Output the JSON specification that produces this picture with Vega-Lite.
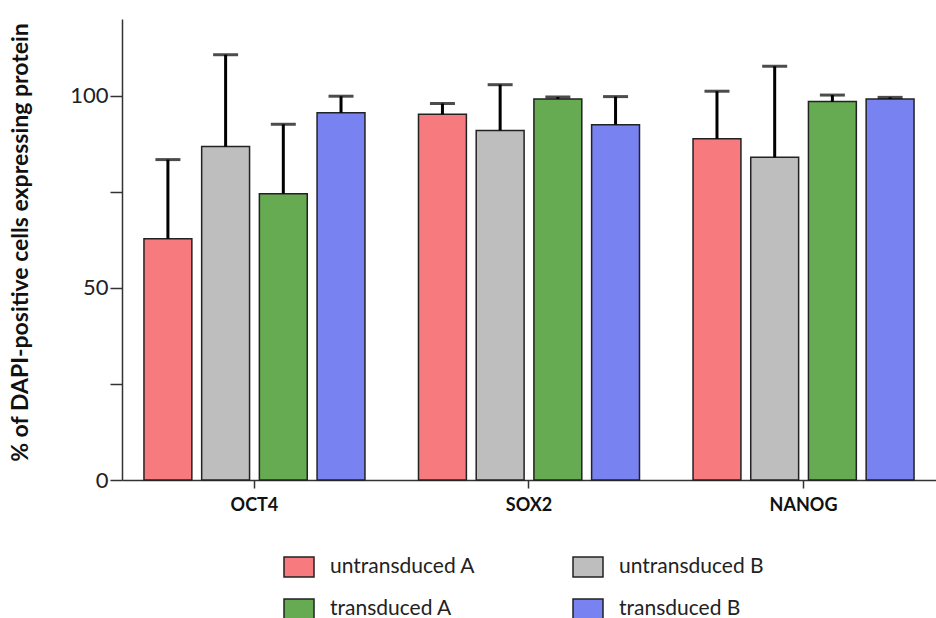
{
  "$schema": "https://vega.github.io/schema/vega-lite/v6.json",
  "autosize": "none",
  "width": 814,
  "height": 461,
  "padding": {"left": 122, "top": 19, "right": 0, "bottom": 138},
  "background": "white",
  "config": {"view": {"stroke": null}, "font": "Lato"},
  "data": {
    "values": [
      {"gene": "OCT4", "group": "untransduced A", "value": 62.8, "err": 83.4},
      {"gene": "OCT4", "group": "untransduced B", "value": 86.8, "err": 110.7},
      {"gene": "OCT4", "group": "transduced A", "value": 74.5, "err": 92.6},
      {"gene": "OCT4", "group": "transduced B", "value": 95.6, "err": 99.9},
      {"gene": "SOX2", "group": "untransduced A", "value": 95.2, "err": 98.0},
      {"gene": "SOX2", "group": "untransduced B", "value": 91.0, "err": 102.9},
      {"gene": "SOX2", "group": "transduced A", "value": 99.2, "err": 99.7},
      {"gene": "SOX2", "group": "transduced B", "value": 92.5, "err": 99.8},
      {"gene": "NANOG", "group": "untransduced A", "value": 88.8, "err": 101.2},
      {"gene": "NANOG", "group": "untransduced B", "value": 84.0, "err": 107.7},
      {"gene": "NANOG", "group": "transduced A", "value": 98.5, "err": 100.2},
      {"gene": "NANOG", "group": "transduced B", "value": 99.2, "err": 99.6}
    ]
  },
  "encoding": {
    "x": {
      "field": "gene", "type": "nominal", "sort": ["OCT4", "SOX2", "NANOG"],
      "scale": {"paddingInner": 0.195, "paddingOuter": 0.08},
      "axis": {
        "title": null, "labelAngle": 0, "labelFont": "Lato", "labelFontWeight": "bold",
        "labelFontSize": 18, "labelColor": "#111", "domainColor": "#333", "domainWidth": 1.5,
        "tickColor": "#333", "tickWidth": 1.5, "tickSize": 8, "labelPadding": 8
      }
    },
    "xOffset": {
      "field": "group", "type": "nominal",
      "sort": ["untransduced A", "untransduced B", "transduced A", "transduced B"],
      "scale": {"paddingInner": 0.17, "paddingOuter": 0}
    }
  },
  "layer": [
    {
      "mark": {"type": "bar", "stroke": "#222", "strokeWidth": 1.5},
      "encoding": {
        "y": {
          "field": "value", "type": "quantitative",
          "scale": {"domain": [0, 120], "nice": false},
          "axis": {
            "title": "% of DAPI-positive cells expressing protein",
            "titleFont": "Lato", "titleFontWeight": "bold", "titleFontSize": 23, "titleColor": "#111",
            "titleX": -102, "titleY": 223, "titleAngle": -90, "titleAnchor": "middle", "titleAlign": "center", "titleBaseline": "middle",
            "titleLimit": 600,
            "values": [0, 25, 50, 75, 100],
            "labelExpr": "datum.value % 50 === 0 ? datum.label : ''",
            "labelFont": "Lato", "labelFontSize": 22, "labelColor": "#222", "labelPadding": 2,
            "tickSize": 12, "tickColor": "#333", "tickWidth": 1.5,
            "domainColor": "#333", "domainWidth": 1.5, "grid": false
          }
        },
        "fill": {
          "field": "group", "type": "nominal",
          "scale": {
            "domain": ["untransduced A", "transduced A", "untransduced B", "transduced B"],
            "range": ["#F77A7E", "#66AA52", "#BEBEBE", "#7882F0"]
          },
          "legend": {
            "title": null, "orient": "none", "legendX": 166, "legendY": 537,
            "columns": 2, "columnPadding": 94, "rowPadding": 16,
            "symbolType": "M-1.5,-1H1.5V1H-1.5Z", "symbolSize": 400,
            "symbolStrokeColor": "#222", "symbolStrokeWidth": 1.5, "symbolOpacity": 1,
            "labelFont": "Lato", "labelFontSize": 21, "labelColor": "#222", "labelOffset": 20,
            "labelLimit": 300
          }
        }
      }
    },
    {
      "mark": {"type": "rule", "color": "black", "strokeWidth": 3},
      "encoding": {
        "y": {"field": "value", "type": "quantitative"},
        "y2": {"field": "err"}
      }
    },
    {
      "mark": {"type": "tick", "color": "black", "thickness": 3, "size": 25},
      "encoding": {
        "y": {"field": "err", "type": "quantitative"}
      }
    }
  ]
}
